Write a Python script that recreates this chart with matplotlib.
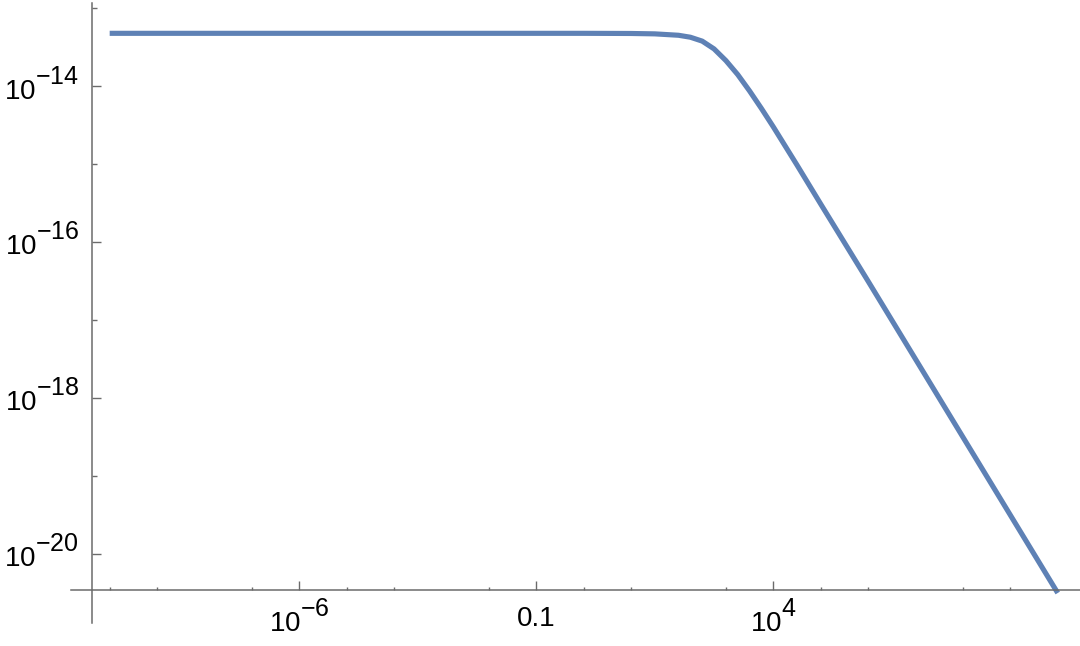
import matplotlib
matplotlib.use("Agg")
import matplotlib.pyplot as plt
import matplotlib._mathtext as _mt
from matplotlib.ticker import FixedLocator, NullFormatter

# larger, higher superscripts, as in the reference
_mt.SHRINK_FACTOR = 0.9
_mt.FontConstantsBase.sup1 = 1.05

# ---- data (log-log curve) ----
x_vals = [1e-10, 1e-8, 1e-6, 1e-4, 1e-2, 1.0, 10.0, 31.6, 100.0, 177.8, 316.2,
          562.3, 1000.0, 1778.0, 3162.0, 5623.0, 1e4, 1.778e4, 3.162e4,
          5.623e4, 1e5, 3.162e5, 1e6, 1e7, 1e8, 1e9, 1e10]
y_vals = [4.786e-14, 4.786e-14, 4.786e-14, 4.786e-14, 4.786e-14, 4.786e-14,
          4.764e-14, 4.710e-14, 4.519e-14, 4.266e-14, 3.802e-14, 3.020e-14,
          2.138e-14, 1.413e-14, 8.710e-15, 5.188e-15, 3.020e-15, 1.718e-15,
          9.772e-16, 5.495e-16, 3.090e-16, 9.886e-17, 3.162e-17, 3.162e-18,
          3.162e-19, 3.162e-20, 3.162e-21]

x_major_ticks = [1e-6, 1e-1, 1e4]
x_major_labels = ["$10^{-6}$", "0.1", "$10^{4}$"]
x_minor_ticks = [1e-10, 1e-9, 1e-7, 1e-5, 1e-4, 1e-2, 1e0, 1e1, 1e3, 1e5,
                 1e6, 1e8, 1e9]
y_major_ticks = [1e-14, 1e-16, 1e-18, 1e-20]
y_major_labels = ["$10^{-14}$", "$10^{-16}$", "$10^{-18}$", "$10^{-20}$"]
y_minor_ticks = [1e-13, 1e-15, 1e-17, 1e-19]

plt.rcParams["font.family"] = ["Liberation Sans", "DejaVu Sans"]
plt.rcParams["mathtext.fontset"] = "custom"
plt.rcParams["mathtext.rm"] = "Liberation Sans"
plt.rcParams["mathtext.it"] = "Liberation Sans:italic"
plt.rcParams["mathtext.bf"] = "Liberation Sans:bold"
plt.rcParams["mathtext.default"] = "regular"

fig = plt.figure(figsize=(10.8, 6.46), dpi=100)
ax = fig.add_axes([71 / 1080, (646 - 622.7) / 646, 1009 / 1080, (622.7 - 3) / 646])

line_color = (0.368417, 0.506779, 0.709798)
ax.plot(x_vals, y_vals, color=line_color, lw=3.7, solid_capstyle="butt",
        solid_joinstyle="round")

ax.set_xscale("log")
ax.set_yscale("log")
ax.set_xlim(10 ** -10.816, 10 ** 10.47)
ax.set_ylim(10 ** -20.881, 10 ** -12.931)

axis_color = "#6b6b6b"
for s in ["top", "right"]:
    ax.spines[s].set_visible(False)
ax.spines["left"].set_position(("data", 10 ** -10.38))
ax.spines["bottom"].set_position(("data", 10 ** -20.462))
for s in ["left", "bottom"]:
    ax.spines[s].set_color(axis_color)
    ax.spines[s].set_linewidth(1.1)

ax.xaxis.set_major_locator(FixedLocator(x_major_ticks))
ax.xaxis.set_minor_locator(FixedLocator(x_minor_ticks))
ax.xaxis.set_minor_formatter(NullFormatter())
ax.set_xticklabels(x_major_labels)
ax.yaxis.set_major_locator(FixedLocator(y_major_ticks))
ax.yaxis.set_minor_locator(FixedLocator(y_minor_ticks))
ax.yaxis.set_minor_formatter(NullFormatter())
ax.set_yticklabels(y_major_labels)

ax.tick_params(axis="both", which="major", direction="in", length=6.7,
               width=1.0, color=axis_color, labelsize=20, labelcolor="black")
ax.tick_params(axis="x", which="minor", direction="in", length=2.5,
               width=1.0, color=axis_color)
ax.tick_params(axis="y", which="minor", direction="in", length=3.8,
               width=1.0, color=axis_color)
ax.tick_params(axis="x", which="major", pad=21)
ax.tick_params(axis="y", which="major", pad=9)
for lbl in ax.get_xticklabels():
    lbl.set_va("center")
for lbl in ax.get_yticklabels():
    lbl.set_va("center")

ax.patch.set_visible(False)
fig.savefig("out.png", dpi=100, facecolor="white")
